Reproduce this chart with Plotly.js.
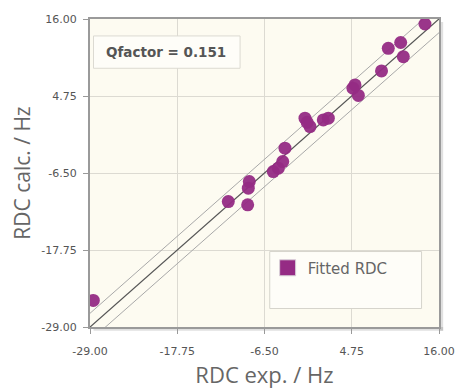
<!DOCTYPE html>
<html>
<head>
<meta charset="utf-8">
<script src="https://cdn.plot.ly/plotly-3.0.1.min.js"></script>
<style>
html,body{margin:0;padding:0;background:#fff;}
#chart{width:458px;height:391px;}
</style>
</head>
<body>
<div id="chart"></div>
<script>
// Data
const rdcExp  = [-28.57, -11.17, -8.67, -8.46, -8.59, -5.37, -4.72, -4.15, -3.86, -1.28, -0.63, 1.08, 1.73, 5.17, 5.60, 8.59, 9.46, 11.06, 11.40, 14.19, 4.90, -1.00];
const rdcCalc = [-25.12, -10.67, -11.15, -7.75, -8.71, -6.29, -5.79, -4.83, -2.87, 1.51, 0.28, 1.26, 1.51, 6.37, 4.83, 8.41, 11.72, 12.57, 10.50, 15.27, 5.90, 0.90];
const tickVals = [-29.00, -17.75, -6.50, 4.75, 16.00];
const tickText = ["-29.00", "-17.75", "-6.50", "4.75", "16.00"];
const axisMin = -29, axisMax = 16;
const band = 2;
const qfactorText = "Qfactor = 0.151";
const seriesName = "Fitted RDC";

const purple = "#952b84";
const lineX = [axisMin, axisMax];

const traces = [
  {x: lineX, y: lineX.map(v => v + band), mode: "lines", line: {color: "#a8a8a8", width: 1}, showlegend: false, hoverinfo: "skip"},
  {x: lineX, y: lineX.map(v => v - band), mode: "lines", line: {color: "#a8a8a8", width: 1}, showlegend: false, hoverinfo: "skip"},
  {x: lineX, y: lineX, mode: "lines", line: {color: "#555555", width: 1.3}, showlegend: false, hoverinfo: "skip"},
  {x: rdcExp, y: rdcCalc, mode: "markers", name: seriesName, showlegend: false,
   marker: {color: purple, size: 13, opacity: 0.95, line: {width: 0}}},
  {x: [null], y: [null], mode: "markers", name: seriesName, showlegend: true,
   marker: {color: purple, size: 16, symbol: "square", line: {color: "#d8d0d8", width: 1}}}
];

const axisCommon = {
  range: [axisMin, axisMax],
  tickvals: tickVals,
  ticktext: tickText,
  ticks: "outside",
  ticklen: 5,
  tickcolor: "#999",
  tickfont: {family: "DejaVu Sans, Verdana, sans-serif", size: 11, color: "#555"},
  showgrid: true,
  gridcolor: "#dcdad2",
  gridwidth: 1,
  zeroline: false,
  showline: true,
  mirror: true,
  linecolor: "#9a9a9a",
  linewidth: 2,
  fixedrange: true
};

const layout = {
  width: 458, height: 391,
  margin: {l: 90, r: 19, t: 19, b: 64},
  paper_bgcolor: "#ffffff",
  plot_bgcolor: "#fdfbf1",
  xaxis: Object.assign({}, axisCommon, {
    ticklabelstandoff: 8,
    title: {text: "RDC exp. / Hz", font: {family: "Open Sans, sans-serif", size: 22, color: "#666"}, standoff: 10}
  }),
  yaxis: Object.assign({}, axisCommon, {
    ticklabelstandoff: 4,
    title: {text: "RDC calc. / Hz", font: {family: "Open Sans, sans-serif", size: 21, color: "#666"}, standoff: 5}
  }),
  showlegend: true,
  legend: {
    x: 0.509, y: 0.245, xanchor: "left", yanchor: "top",
    bgcolor: "rgba(0,0,0,0)", borderwidth: 0,
    font: {family: "DejaVu Sans, Verdana, sans-serif", size: 15, color: "#666"}
  },
  shapes: [
    // drop shadow of frame
    {type: "rect", xref: "paper", yref: "paper", x0: 1.0, x1: 1.012, y0: -0.012, y1: 0.99, fillcolor: "rgba(0,0,0,0.12)", line: {width: 0}, layer: "below"},
    {type: "rect", xref: "paper", yref: "paper", x0: 0.01, x1: 1.012, y0: -0.012, y1: 0.0, fillcolor: "rgba(0,0,0,0.12)", line: {width: 0}, layer: "below"},
    // legend box
    {type: "rect", xref: "paper", yref: "paper", x0: 0.515, x1: 0.95, y0: 0.06, y1: 0.245, fillcolor: "#fefdf8", line: {color: "#d6d4cc", width: 1}, layer: "above"},
    // qfactor box
    {type: "rect", xref: "paper", yref: "paper", x0: 0.01, x1: 0.43, y0: 0.84, y1: 0.945, fillcolor: "#fefdf8", line: {color: "#dcdad2", width: 1}, layer: "above"}
  ],
  annotations: [
    {xref: "paper", yref: "paper", x: 0.218, y: 0.8925, xanchor: "center", yanchor: "middle", showarrow: false,
     text: "<b>" + qfactorText + "</b>", font: {family: "DejaVu Sans, Verdana, sans-serif", size: 13.5, color: "#555"}}
  ]
};

Plotly.newPlot("chart", traces, layout, {displayModeBar: false, staticPlot: true});
</script>
</body>
</html>
